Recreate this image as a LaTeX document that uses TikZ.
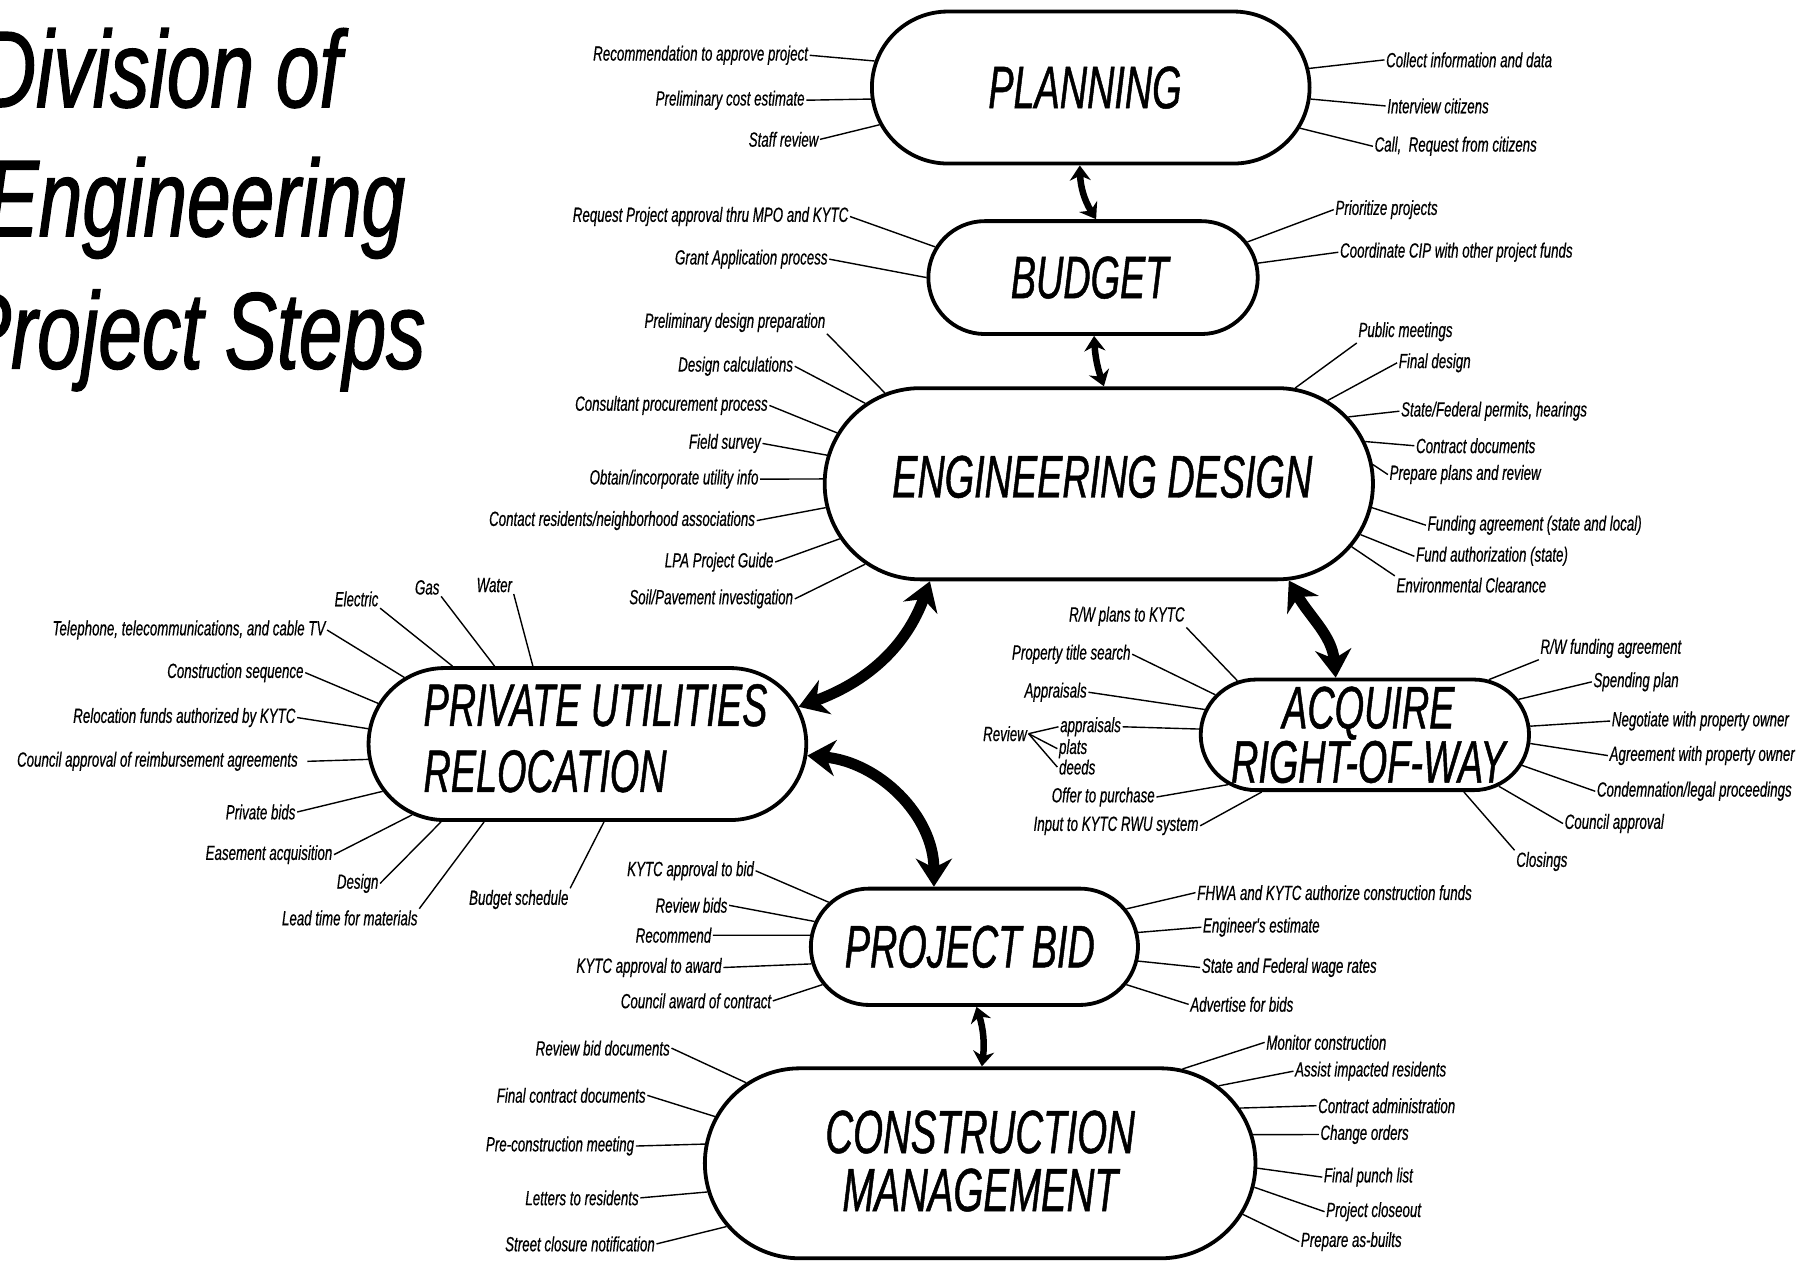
\documentclass[tikz,border=0pt]{standalone}
\usepackage{fontspec}
\setmainfont{Liberation Sans}
\newfontfamily\labfont[FakeStretch=0.65,FakeBold=0.5]{Liberation Sans}
\newfontfamily\bigfont[FakeStretch=0.63,FakeBold=0.8]{Liberation Sans}
\newfontfamily\ttlfont[FakeStretch=0.72,FakeBold=1.2]{Liberation Sans}
\usetikzlibrary{shapes.misc,arrows.meta}
\begin{document}
\begin{tikzpicture}[x=1.1518pt,y=-1.1518pt,
  stage/.style={rounded rectangle, draw, line width=3.8pt, inner sep=0pt},
  stagetext/.style={inner sep=0pt, font=\bigfont\itshape\fontsize{60}{66}\selectfont},
  labL/.style={anchor=east, inner sep=1.5pt, font=\labfont\itshape\fontsize{20.5}{22}\selectfont},
  labR/.style={labL, anchor=west},
  lk/.style={line width=1.4pt},
  bigarr/.style={line width=11pt, {Stealth[length=28pt,width=36pt]}-{Stealth[length=28pt,width=36pt]}},
  smallarr/.style={line width=6.5pt, {Stealth[length=15pt,width=21pt]}-{Stealth[length=15pt,width=21pt]}},
  ttl/.style={anchor=base west, inner sep=0pt, font=\ttlfont\itshape\fontsize{109}{120}\selectfont}]
\useasboundingbox (0,0) rectangle (1568,1096);

% title
\node[ttl] (t1) at (-18,93) {Division of};
\node[ttl] (t2) at (-12,205) {Engineering};
\node[ttl] (t3) at (-36,320) {Project Steps};

% stages
\node[stage, minimum width=437.7pt, minimum height=152pt] (plan) at (947,76) {};
\node[stagetext] (planT) at (942,76) {PLANNING};
\node[stage, minimum width=329.4pt, minimum height=112.9pt] (bud) at (949,241) {};
\node[stagetext] (budT) at (946,241) {BUDGET};
\node[stage, minimum width=548.3pt, minimum height=191.2pt] (eng) at (954,420) {};
\node[stagetext] (engT) at (957,414) {ENGINEERING DESIGN};
\node[stage, minimum width=437.7pt, minimum height=152pt] (priv) at (510,646) {};
\node[stagetext, align=left, font=\bigfont\itshape\fontsize{60}{66}\selectfont] (privT) at (517,641) {PRIVATE UTILITIES\\RELOCATION};
\node[stage, minimum width=328.3pt, minimum height=110.6pt] (acq) at (1185,638) {};
\node[stagetext, align=center, font=\bigfont\itshape\fontsize{60}{52}\selectfont] (acqT) at (1188,638) {ACQUIRE\\RIGHT-OF-WAY};
\node[stage, minimum width=327.1pt, minimum height=116.3pt] (bid) at (846,822) {};
\node[stagetext] (bidT) at (842,822) {PROJECT BID};
\node[stage, minimum width=550.6pt, minimum height=190pt] (con) at (851,1010) {};
\node[stagetext, align=center, font=\bigfont\itshape\fontsize{61}{58}\selectfont] (conT) at (851,1008) {CONSTRUCTION\\MANAGEMENT};

% stage arrows
\draw[smallarr] (plan.262) to[bend right=15] (bud.87);
\draw[smallarr] (bud.271) to[bend right=8] (eng.87);
\draw[bigarr] (eng.210) to[out=250,in=20] (priv.10);
\draw[bigarr] (eng.333) to[out=-60,in=95] (acq.117);
\draw[bigarr] (priv.-3) to[out=-5,in=90] (bid.124);
\draw[smallarr] (bid.272) to[bend left=12] (con.89);

% PLANNING
\node[labL] (p1) at (703,48) {Recommendation to approve project};
\node[labL] (p2) at (700,87) {Preliminary cost estimate};
\node[labL] (p3) at (712,121) {Staff review};
\node[labR] (p4) at (1202,52) {Collect information and data};
\node[labR] (p5) at (1203,92) {Interview citizens};
\node[labR] (p6) at (1192,127) {Call,~ Request from citizens};
\draw[lk] (p1.east) -- (plan.173);
\draw[lk] (p2.east) -- (plan.183);
\draw[lk] (p3.east) -- (plan.190);
\draw[lk] (p4.west) -- (plan.5.5);
\draw[lk] (p5.west) -- (plan.-3);
\draw[lk] (p6.west) -- (plan.-11.4);

% BUDGET
\node[labL] (b1) at (738,188) {Request Project approval thru MPO and KYTC};
\node[labL] (b2) at (720,225) {Grant Application process};
\node[labR] (b3) at (1158,182) {Prioritize projects};
\node[labR] (b4) at (1162,219) {Coordinate CIP with other project funds};
\draw[lk] (b1.east) -- (bud.169);
\draw[lk] (b2.east) -- (bud.180);
\draw[lk] (b3.west) -- (bud.13);
\draw[lk] (b4.west) -- (bud.5);

% ENGINEERING DESIGN
\node[labL] (e1) at (718,280) {Preliminary design preparation};
\node[labL] (e2) at (690,318) {Design calculations};
\node[labL] (e3) at (668,352) {Consultant procurement process};
\node[labL] (e4) at (662,385) {Field survey};
\node[labL] (e5) at (660,416) {Obtain/incorporate utility info};
\node[labL] (e6) at (657,452) {Contact residents/neighborhood associations};
\node[labL] (e7) at (673,488) {LPA Project Guide};
\node[labL] (e8) at (690,520) {Soil/Pavement investigation};
\node[labR] (e9) at (1178,288) {Public meetings};
\node[labR] (e10) at (1213,315) {Final design};
\node[labR] (e11) at (1215,357) {State/Federal permits, hearings};
\node[labR] (e12) at (1228,387) {Contract documents};
\node[labR] (e13) at (1205,412) {Prepare plans and review};
\node[labR] (e14) at (1238,456) {Funding agreement (state and local)};
\node[labR] (e15) at (1228,483) {Fund authorization (state)};
\node[labR] (e16) at (1211,508) {Environmental Clearance};
\draw[lk] (e1.south east) -- (eng.157.6);
\draw[lk] (e2.east) -- (eng.161);
\draw[lk] (e3.east) -- (eng.169);
\draw[lk] (e4.east) -- (eng.174);
\draw[lk] (e5.east) -- (eng.179);
\draw[lk] (e6.east) -- (eng.185);
\draw[lk] (e7.east) -- (eng.192);
\draw[lk] (e8.east) -- (eng.199);
\draw[lk] (e9.south west) -- (eng.26);
\draw[lk] (e10.west) -- (eng.20);
\draw[lk] (e11.west) -- (eng.15);
\draw[lk] (e12.west) -- (eng.9);
\draw[lk] (e13.west) -- (eng.4);
\draw[lk] (e14.west) -- (eng.-5);
\draw[lk] (e15.west) -- (eng.-11);
\draw[lk] (e16.north west) -- (eng.-14);

% PRIVATE UTILITIES RELOCATION
\node[labL] (u1) at (446,508) {Water};
\node[labL] (u2) at (383,510) {Gas};
\node[labL] (u3) at (330,520) {Electric};
\node[labL] (u4) at (284,547) {Telephone, telecommunications, and cable TV};
\node[labL] (u5) at (265,584) {Construction sequence};
\node[labL] (u6) at (258,623) {Relocation funds authorized by KYTC};
\node[labL] (u7) at (260,661) {Council approval of reimbursement agreements};
\node[labL] (u8) at (258,705) {Private bids};
\node[labL] (u9) at (290,742) {Easement acquisition};
\node[labL] (u10) at (330,767) {Design};
\node[labL] (u11) at (364,797) {Lead time for materials};
\node[labL] (u12) at (495,781) {Budget schedule};
\draw[lk] (u1.south east) -- (priv.125.5);
\draw[lk] (u2.south east) -- (priv.140.7);
\draw[lk] (u3.south east) -- (priv.150);
\draw[lk] (u4.east) -- (priv.160.5);
\draw[lk] (u5.east) -- (priv.169);
\draw[lk] (u6.east) -- (priv.176);
\draw[lk] ([xshift=8pt]u7.east) -- (priv.184.6);
\draw[lk] (u8.east) -- (priv.193);
\draw[lk] (u9.east) -- (priv.202);
\draw[lk] (u10.east) -- (priv.208);
\draw[lk] (u11.north east) -- (priv.217);
\draw[lk] (u12.north east) -- (priv.282);

% ACQUIRE RIGHT-OF-WAY
\node[labL] (a1) at (1030,535) {R/W plans to KYTC};
\node[labL] (a2) at (983,568) {Property title search};
\node[labL] (a3) at (945,601) {Appraisals};
\node[labL] (rv) at (893,637) {Review};
\node[labR] (rvA) at (919,631) {appraisals};
\node[labR] (rvP) at (918,650) {plats};
\node[labR] (rvD) at (918,666) {deeds};
\node[labL] (a4) at (1004,692) {Offer to purchase};
\node[labL] (a5) at (1042,717) {Input to KYTC RWU system};
\node[labR] (a6) at (1336,563) {R/W funding agreement};
\node[labR] (a7) at (1382,592) {Spending plan};
\node[labR] (a8) at (1398,626) {Negotiate with property owner};
\node[labR] (a9) at (1396,656) {Agreement with property owner};
\node[labR] (a10) at (1385,687) {Condemnation/legal proceedings};
\node[labR] (a11) at (1357,715) {Council approval};
\node[labR] (a12) at (1315,748) {Closings};
\draw[lk] (a1.south east) -- (acq.157);
\draw[lk] (a2.east) -- (acq.165);
\draw[lk] (a3.east) -- (acq.171.5);
\draw[lk] (rv.east) -- (rvA.west);
\draw[lk] (rv.east) -- (rvP.west);
\draw[lk] (rv.east) -- (rvD.west);
\draw[lk] (rvA.east) -- (acq.178.4);
\draw[lk] (a4.east) -- (acq.200);
\draw[lk] (a5.east) -- (acq.209);
\draw[lk] (a6.south west) -- (acq.24);
\draw[lk] (a7.west) -- (acq.13);
\draw[lk] (a8.west) -- (acq.3);
\draw[lk] (a9.west) -- (acq.-3);
\draw[lk] (a10.west) -- (acq.-11);
\draw[lk] (a11.west) -- (acq.-21);
\draw[lk] (a12.north west) -- (acq.-30);

% PROJECT BID
\node[labL] (d1) at (656,756) {KYTC approval to bid};
\node[labL] (d2) at (633,786) {Review bids};
\node[labL] (d3) at (619,812) {Recommend};
\node[labL] (d4) at (628,840) {KYTC approval to award};
\node[labL] (d5) at (671,869) {Council award of contract};
\node[labR] (d6) at (1038,775) {FHWA and KYTC authorize construction funds};
\node[labR] (d7) at (1043,805) {Engineer's estimate};
\node[labR] (d8) at (1042,840) {State and Federal wage rates};
\node[labR] (d9) at (1032,872) {Advertise for bids};
\draw[lk] (d1.east) -- (bid.163);
\draw[lk] (d2.east) -- (bid.171);
\draw[lk] (d3.east) -- (bid.176);
\draw[lk] (d4.east) -- (bid.186);
\draw[lk] (d5.east) -- (bid.194);
\draw[lk] (d6.west) -- (bid.14);
\draw[lk] (d7.west) -- (bid.5);
\draw[lk] (d8.west) -- (bid.-5);
\draw[lk] (d9.west) -- (bid.-14);

% CONSTRUCTION MANAGEMENT
\node[labL] (c1) at (583,910) {Review bid documents};
\node[labL] (c2) at (562,951) {Final contract documents};
\node[labL] (c3) at (552,995) {Pre-construction meeting};
\node[labL] (c4) at (556,1040) {Letters to residents};
\node[labL] (c5) at (570,1080) {Street closure notification};
\node[labR] (c6) at (1098,905) {Monitor construction};
\node[labR] (c7) at (1123,930) {Assist impacted residents};
\node[labR] (c8) at (1143,960) {Contract administration};
\node[labR] (c9) at (1145,985) {Change orders};
\node[labR] (c10) at (1148,1022) {Final punch list};
\node[labR] (c11) at (1150,1052) {Project closeout};
\node[labR] (c12) at (1128,1078) {Prepare as-builts};
\draw[lk] (c1.east) -- (con.161);
\draw[lk] (c2.east) -- (con.170);
\draw[lk] (c3.east) -- (con.176);
\draw[lk] (c4.east) -- (con.186);
\draw[lk] (c5.east) -- (con.194);
\draw[lk] (c6.west) -- (con.25);
\draw[lk] (c7.west) -- (con.18);
\draw[lk] (c8.west) -- (con.12);
\draw[lk] (c9.west) -- (con.6.6);
\draw[lk] (c10.west) -- (con.-1);
\draw[lk] (c11.west) -- (con.-5);
\draw[lk] (c12.west) -- (con.-11.5);
\end{tikzpicture}
\end{document}
